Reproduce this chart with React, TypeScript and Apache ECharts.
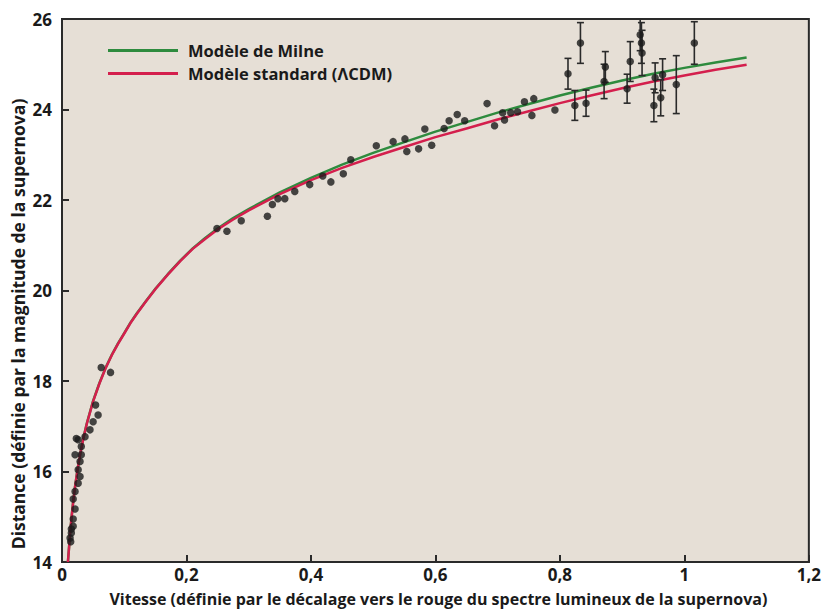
import React, { useEffect, useRef } from "react";
import * as echarts from "echarts";

// Model curves (redshift z vs magnitude)
const curveZ = [0.0095, 0.011, 0.013, 0.015, 0.018, 0.021, 0.025, 0.03, 0.035, 0.04, 0.05, 0.06, 0.07, 0.08, 0.09, 0.1, 0.11, 0.12, 0.135, 0.15, 0.17, 0.19, 0.21, 0.23, 0.25, 0.275, 0.3, 0.35, 0.4, 0.45, 0.5, 0.55, 0.6, 0.65, 0.7, 0.75, 0.8, 0.85, 0.9, 0.95, 1.0, 1.05, 1.1];
const lcdmM = [14.0, 14.26, 14.62, 14.93, 15.33, 15.66, 16.04, 16.44, 16.77, 17.06, 17.55, 17.94, 18.28, 18.57, 18.82, 19.05, 19.28, 19.48, 19.76, 20.03, 20.35, 20.65, 20.92, 21.14, 21.35, 21.57, 21.77, 22.13, 22.44, 22.71, 22.95, 23.17, 23.39, 23.58, 23.78, 23.96, 24.14, 24.31, 24.47, 24.62, 24.75, 24.88, 24.99];
const milneM = [14.0, 14.27, 14.63, 14.94, 15.34, 15.67, 16.05, 16.45, 16.78, 17.07, 17.56, 17.95, 18.29, 18.58, 18.83, 19.06, 19.29, 19.49, 19.77, 20.04, 20.36, 20.66, 20.93, 21.16, 21.37, 21.6, 21.8, 22.17, 22.49, 22.78, 23.04, 23.28, 23.51, 23.72, 23.93, 24.12, 24.31, 24.48, 24.64, 24.79, 24.92, 25.04, 25.15];

// Supernovae without error bars
const sneZ = [0.014, 0.013, 0.015, 0.015, 0.018, 0.018, 0.021, 0.018, 0.021, 0.026, 0.029, 0.026, 0.029, 0.021, 0.031, 0.031, 0.026, 0.023, 0.037, 0.045, 0.05, 0.058, 0.054, 0.063, 0.078,
  0.249, 0.265, 0.288, 0.33, 0.338, 0.347, 0.358, 0.374, 0.398, 0.419, 0.432, 0.452, 0.464, 0.505, 0.532, 0.551, 0.554, 0.573, 0.583, 0.594, 0.614, 0.622, 0.635, 0.647, 0.683, 0.695, 0.708, 0.711, 0.721, 0.732, 0.743, 0.755, 0.758, 0.792];
const sneM = [14.45, 14.53, 14.64, 14.73, 14.79, 14.95, 15.17, 15.39, 15.56, 15.74, 15.89, 16.04, 16.22, 16.37, 16.37, 16.55, 16.7, 16.73, 16.77, 16.92, 17.1, 17.25, 17.47, 18.3, 18.19,
  21.37, 21.31, 21.54, 21.64, 21.9, 22.03, 22.03, 22.19, 22.34, 22.53, 22.4, 22.58, 22.89, 23.2, 23.29, 23.35, 23.07, 23.13, 23.57, 23.21, 23.58, 23.75, 23.89, 23.75, 24.13, 23.64, 23.93, 23.77, 23.93, 23.95, 24.17, 23.87, 24.24, 23.99];

// Distant supernovae with error bars (value and half-length)
const errZ = [0.813, 0.824, 0.833, 0.842, 0.873, 0.871, 0.908, 0.913, 0.929, 0.931, 0.932, 0.951, 0.953, 0.962, 0.965, 0.987, 1.016];
const errM = [24.79, 24.09, 25.47, 24.14, 24.94, 24.62, 24.46, 25.06, 25.65, 25.47, 25.25, 24.09, 24.7, 24.26, 24.77, 24.55, 25.47];
const errE = [0.34, 0.33, 0.45, 0.29, 0.34, 0.38, 0.32, 0.44, 0.35, 0.45, 0.5, 0.36, 0.33, 0.4, 0.35, 0.64, 0.47];

const xTicks = [0, 0.2, 0.4, 0.6, 0.8, 1, 1.2];
const yTicks = [14, 16, 18, 20, 22, 24, 26];

const Y_TITLE = "Distance (définie par la magnitude de la supernova)";
const X_TITLE = "Vitesse (définie par le décalage vers le rouge du spectre lumineux de la supernova)";

const FONT = "'Open Sans', sans-serif";
const INK = "#1a1a1a";

export default function App() {
  const ref = useRef<HTMLDivElement>(null);
  useEffect(() => {
    if (!ref.current) return;
    const chart = echarts.init(ref.current, null, { renderer: "svg" });
    const milne = curveZ.map((z, i) => [z, milneM[i]]);
    const lcdm = curveZ.map((z, i) => [z, lcdmM[i]]);
    const pts = sneZ.map((z, i) => [z, sneM[i]]);
    const errs = errZ.map((z, i) => [z, errM[i], errE[i]]);
    const fmtX = (v: number) => (v === 0 ? "0" : String(+v.toFixed(1)).replace(".", ","));
    chart.setOption({
      animation: false,
      backgroundColor: "#ffffff",
      grid: {
        left: 62,
        top: 19,
        right: 8,
        bottom: 46,
        show: true,
        backgroundColor: "#e6dfd6",
        borderColor: "#2a2a2a",
        borderWidth: 2,
      },
      legend: {
        orient: "vertical",
        left: 108,
        top: 41,
        padding: 0,
        itemWidth: 70,
        itemHeight: 3,
        itemGap: 4,
        textStyle: { fontFamily: FONT, fontSize: 16.5, fontWeight: 700, color: INK, lineHeight: 19, padding: [0, 0, 0, 5] },
        data: [
          { name: "Modèle de Milne", icon: "rect" },
          { name: "Modèle standard (ΛCDM)", icon: "rect" },
        ],
      },
      graphic: [
        {
          type: "text",
          x: 18,
          y: 324,
          rotation: Math.PI / 2,
          style: {
            text: Y_TITLE,
            fontFamily: FONT,
            fontSize: 17.5,
            fontWeight: 700,
            fill: INK,
            align: "center",
            verticalAlign: "middle",
          },
        },
      ],
      xAxis: {
        type: "value",
        min: 0,
        max: 1.2,
        interval: 0.2,
        name: X_TITLE,
        nameLocation: "middle",
        nameGap: 29,
        nameTextStyle: { fontFamily: FONT, fontSize: 16, fontWeight: 700, color: INK, padding: [0, 0, 0, 6] },
        splitLine: { show: false },
        axisLine: { show: true, onZero: false, lineStyle: { color: "#2a2a2a", width: 2 } },
        axisTick: { show: true, inside: true, length: 7, lineStyle: { color: "#2a2a2a", width: 2 } },
        axisLabel: {
          formatter: fmtX,
          fontFamily: FONT,
          fontSize: 17,
          fontWeight: 700,
          color: INK,
          margin: 4,
          customValues: xTicks,
        },
      },
      yAxis: {
        type: "value",
        min: 14,
        max: 26,
        interval: 2,
        splitLine: { show: false },
        axisLine: { show: true, lineStyle: { color: "#2a2a2a", width: 2 } },
        axisTick: { show: true, inside: true, length: 7, lineStyle: { color: "#2a2a2a", width: 2 } },
        axisLabel: {
          fontFamily: FONT,
          fontSize: 17,
          fontWeight: 700,
          color: INK,
          margin: 10,
          customValues: yTicks,
        },
      },
      series: [
        {
          name: "Modèle de Milne",
          type: "line",
          data: milne,
          smooth: false,
          showSymbol: false,
          symbol: "none",
          lineStyle: { color: "#2e8b3e", width: 2.5, join: "round" },
          itemStyle: { color: "#2e8b3e" },
          z: 3,
        },
        {
          name: "Modèle standard (ΛCDM)",
          type: "line",
          data: lcdm,
          smooth: false,
          showSymbol: false,
          symbol: "none",
          lineStyle: { color: "#d41f4d", width: 2.5, join: "round" },
          itemStyle: { color: "#d41f4d" },
          z: 3,
        },
        {
          name: "errors",
          type: "custom",
          data: errs,
          z: 4,
          renderItem: (params: any, api: any) => {
            const x = api.value(0);
            const y = api.value(1);
            const e = api.value(2);
            const hi = Math.min(26, y + e);
            const top = api.coord([x, hi]);
            const bot = api.coord([x, y - e]);
            const hw = 3.5;
            const st = { stroke: "#2a2a2a", lineWidth: 1.6 };
            return {
              type: "group",
              children: [
                { type: "line", shape: { x1: top[0], y1: top[1], x2: bot[0], y2: bot[1] }, style: st },
                { type: "line", shape: { x1: top[0] - hw, y1: top[1], x2: top[0] + hw, y2: top[1] }, style: st },
                { type: "line", shape: { x1: bot[0] - hw, y1: bot[1], x2: bot[0] + hw, y2: bot[1] }, style: st },
              ],
            };
          },
        },
        {
          name: "errpts",
          type: "scatter",
          data: errs.map((d) => [d[0], d[1]]),
          symbolSize: 7.5,
          itemStyle: { color: INK },
          z: 5,
        },
        {
          name: "points",
          type: "scatter",
          data: pts,
          symbolSize: 7.5,
          itemStyle: { color: INK },
          z: 5,
        },
      ],
    });
    return () => chart.dispose();
  }, []);
  return <div ref={ref} style={{ width: 824, height: 612, position: "absolute", left: 0, top: 0 }} />;
}
